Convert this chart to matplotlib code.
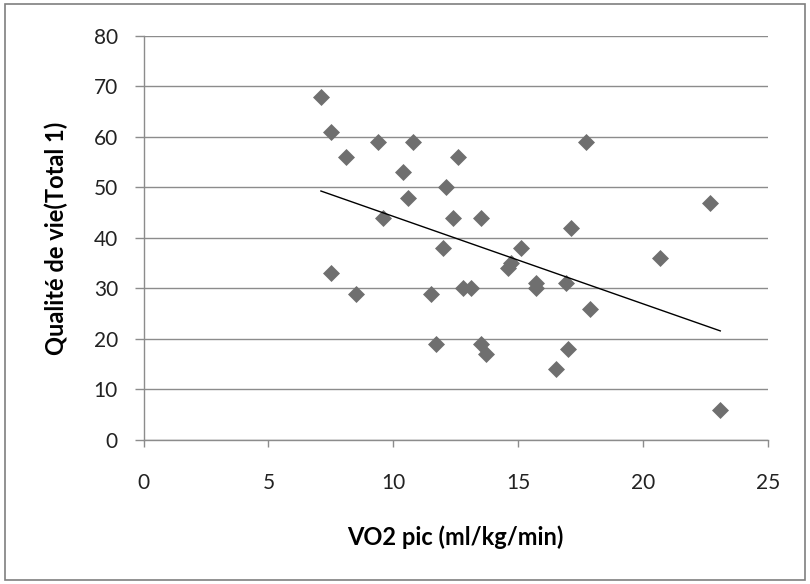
#!/usr/bin/env python3
"""
Scatter of quality of life vs VO2 peak, Excel-style, with linear trend line.
"""

import matplotlib
matplotlib.use('Agg')
import matplotlib.pyplot as plt
from matplotlib.patches import Rectangle

# data
vo2_pic = [7.1, 7.5, 8.1, 9.4, 10.8, 10.4, 10.6, 9.6, 12.1, 12.6, 12.4, 12.0,
           7.5, 8.5, 11.5, 11.7, 17.7, 13.5, 15.1, 14.7, 14.6, 12.8, 13.1,
           15.7, 15.7, 16.9, 17.1, 17.9, 20.7, 22.7, 23.1, 13.5, 13.7, 17.0, 16.5]
qualite = [68, 61, 56, 59, 59, 53, 48, 44, 50, 56, 44, 38,
           33, 29, 29, 19, 59, 44, 38, 35, 34, 30, 30,
           31, 30, 31, 42, 26, 36, 47, 6, 19, 17, 18, 14]

# trend line end points (Excel linear trendline)
trend_x = [7.1, 23.1]
trend_y = [49.3, 21.6]

x_ticks = [0, 5, 10, 15, 20, 25]
y_ticks = [0, 10, 20, 30, 40, 50, 60, 70, 80]

FONT = ['Lato', 'DejaVu Sans']
GRID_COLOR = '#8c8c8c'
MARKER_COLOR = '#6f6f6f'


def main() -> None:
    plt.rcParams['font.family'] = FONT

    fig = plt.figure(figsize=(8.10, 5.84), dpi=100)
    fig.patches.append(Rectangle((0.006, 0.007), 0.988, 0.986, transform=fig.transFigure,
                                 fill=False, edgecolor='#7f7f7f', linewidth=1.2))
    ax = fig.add_axes([0.1774, 0.2466, 0.7704, 0.6918])

    ax.scatter(vo2_pic, qualite, marker='D', s=75, color=MARKER_COLOR,
               linewidths=0, zorder=3)
    ax.plot(trend_x, trend_y, color='black', linewidth=1.0, zorder=4)

    ax.set_xlim(x_ticks[0], x_ticks[-1])
    ax.set_ylim(y_ticks[0], y_ticks[-1])
    ax.set_xticks(x_ticks)
    ax.set_yticks(y_ticks)

    ax.grid(axis='y', color=GRID_COLOR, linewidth=1.0)
    ax.set_axisbelow(True)
    for side in ('top', 'right'):
        ax.spines[side].set_visible(False)
    for side in ('left', 'bottom'):
        ax.spines[side].set_color(GRID_COLOR)
        ax.spines[side].set_linewidth(1.0)

    ax.tick_params(axis='both', direction='out', width=1.0,
                   color=GRID_COLOR, labelsize=15, labelcolor='#222222')
    ax.tick_params(axis='x', length=5, pad=19)
    ax.tick_params(axis='y', length=6.5, pad=12)

    ax.set_xlabel('VO2 pic (ml/kg/min)', fontsize=17, fontweight='bold', va='center')
    ax.set_ylabel('Qualité de vie(Total 1)', fontsize=17, fontweight='bold', va='center')
    ax.xaxis.set_label_coords(0.5, -0.240)
    ax.yaxis.set_label_coords(-0.1405, 0.5)

    fig.savefig('out.png', dpi=100)
    plt.close(fig)


if __name__ == "__main__":
    main()
